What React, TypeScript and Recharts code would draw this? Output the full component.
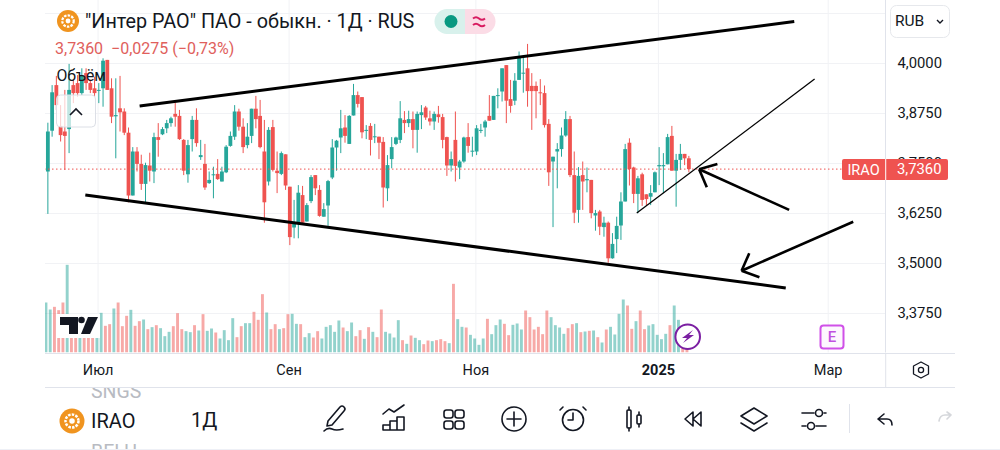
import { Bar, CartesianGrid, ComposedChart, ReferenceLine, XAxis, YAxis } from 'recharts';

const FONT = 'Roboto, sans-serif';
const UP = '#26a69a';
const DOWN = '#ef5350';
const TEXT = '#131722';
const GRID = '#f1f2f5';
const PANE = '#e0e3eb';

// daily candles
const opens = [
  3.730, 3.832, 3.946, 3.844, 3.830, 3.836, 3.946, 3.951, 3.926, 3.976, 3.951, 3.938, 3.932, 3.938, 4.009, 3.938,
  3.868, 3.888, 3.880, 3.827, 3.670, 3.780, 3.749, 3.699, 3.745, 3.730, 3.816, 3.823, 3.838, 3.851, 3.874, 3.869,
  3.809, 3.723, 3.811, 3.859, 3.766, 3.749, 3.701, 3.721, 3.724, 3.705, 3.728, 3.794, 3.817, 3.880, 3.842, 3.796,
  3.819, 3.887, 3.869, 3.780, 3.705, 3.841, 3.732, 3.724, 3.773, 3.692, 3.590, 3.602, 3.671, 3.605, 3.656, 3.721,
  3.684, 3.617, 3.645, 3.715, 3.790, 3.815, 3.840, 3.799, 3.870, 3.921, 3.916, 3.832, 3.844, 3.817, 3.817, 3.804,
  3.688, 3.761, 3.799, 3.809, 3.859, 3.851, 3.861, 3.834, 3.871, 3.890, 3.863, 3.855, 3.873, 3.866, 3.816, 3.745,
  3.809, 3.740, 3.755, 3.816, 3.780, 3.780, 3.832, 3.840, 3.869, 3.859, 3.920, 3.930, 3.996, 3.911, 3.907, 3.959,
  3.976, 3.988, 3.944, 3.944, 3.928, 3.926, 3.849, 3.755, 3.780, 3.786, 3.820, 3.861, 3.721, 3.634, 3.721, 3.708,
  3.709, 3.620, 3.630, 3.591, 3.602, 3.513, 3.561, 3.595, 3.655, 3.802, 3.740, 3.674, 3.723, 3.673, 3.667, 3.678,
  3.743, 3.743, 3.748, 3.819, 3.732, 3.759, 3.774, 3.763,
];
const highs = [
  3.852, 3.946, 3.969, 3.896, 3.934, 3.999, 3.959, 3.971, 3.988, 3.988, 3.959, 3.967, 3.951, 4.013, 4.009, 3.963,
  3.963, 3.969, 3.888, 3.840, 3.791, 3.791, 3.772, 3.752, 3.777, 3.827, 3.851, 3.841, 3.859, 3.867, 3.902, 3.884,
  3.811, 3.809, 3.869, 3.888, 3.809, 3.799, 3.730, 3.742, 3.761, 3.742, 3.796, 3.830, 3.896, 3.887, 3.863, 3.851,
  3.887, 3.919, 3.909, 3.859, 3.841, 3.859, 3.780, 3.780, 3.773, 3.692, 3.659, 3.696, 3.694, 3.651, 3.721, 3.721,
  3.696, 3.651, 3.709, 3.811, 3.809, 3.884, 3.871, 3.871, 3.949, 3.930, 3.916, 3.846, 3.851, 3.849, 3.817, 3.816,
  3.771, 3.816, 3.817, 3.906, 3.881, 3.882, 3.880, 3.880, 3.896, 3.894, 3.882, 3.880, 3.894, 3.874, 3.817, 3.780,
  3.880, 3.759, 3.817, 3.851, 3.817, 3.846, 3.849, 3.859, 3.921, 3.919, 3.938, 3.988, 3.996, 3.959, 3.976, 4.030,
  4.019, 4.049, 3.976, 3.955, 3.961, 3.945, 3.861, 3.767, 3.801, 3.840, 3.881, 3.869, 3.780, 3.741, 3.755, 3.740,
  3.709, 3.634, 3.634, 3.617, 3.605, 3.576, 3.617, 3.678, 3.799, 3.813, 3.742, 3.719, 3.727, 3.673, 3.696, 3.730,
  3.791, 3.776, 3.824, 3.844, 3.774, 3.799, 3.774, 3.769,
];
const lows = [
  3.624, 3.817, 3.884, 3.805, 3.734, 3.776, 3.901, 3.917, 3.921, 3.934, 3.926, 3.917, 3.901, 3.892, 3.934, 3.851,
  3.763, 3.830, 3.821, 3.653, 3.670, 3.730, 3.684, 3.652, 3.705, 3.701, 3.767, 3.821, 3.826, 3.842, 3.842, 3.809,
  3.721, 3.702, 3.780, 3.792, 3.759, 3.684, 3.699, 3.663, 3.709, 3.705, 3.726, 3.792, 3.809, 3.832, 3.776, 3.788,
  3.801, 3.838, 3.788, 3.602, 3.695, 3.730, 3.676, 3.721, 3.684, 3.546, 3.563, 3.563, 3.601, 3.605, 3.651, 3.671,
  3.617, 3.617, 3.594, 3.711, 3.732, 3.776, 3.802, 3.799, 3.870, 3.890, 3.813, 3.811, 3.770, 3.801, 3.761, 3.640,
  3.656, 3.738, 3.796, 3.801, 3.826, 3.841, 3.788, 3.777, 3.836, 3.859, 3.845, 3.834, 3.852, 3.788, 3.719, 3.730,
  3.705, 3.711, 3.752, 3.777, 3.767, 3.771, 3.826, 3.817, 3.857, 3.859, 3.888, 3.905, 3.851, 3.877, 3.896, 3.959,
  3.927, 3.892, 3.834, 3.863, 3.896, 3.840, 3.694, 3.591, 3.688, 3.767, 3.817, 3.716, 3.601, 3.602, 3.634, 3.678,
  3.613, 3.582, 3.571, 3.567, 3.502, 3.512, 3.526, 3.559, 3.655, 3.695, 3.651, 3.626, 3.644, 3.644, 3.646, 3.678,
  3.696, 3.676, 3.748, 3.732, 3.642, 3.734, 3.746, 3.728,
];
const closes = [
  3.830, 3.928, 3.896, 3.821, 3.819, 3.934, 3.926, 3.926, 3.971, 3.951, 3.934, 3.926, 3.934, 4.007, 3.934, 3.867,
  3.871, 3.878, 3.827, 3.670, 3.780, 3.749, 3.699, 3.746, 3.732, 3.816, 3.809, 3.836, 3.851, 3.863, 3.867, 3.811,
  3.732, 3.796, 3.859, 3.801, 3.771, 3.690, 3.709, 3.723, 3.711, 3.730, 3.792, 3.819, 3.880, 3.842, 3.791, 3.817,
  3.887, 3.861, 3.791, 3.653, 3.834, 3.734, 3.726, 3.776, 3.695, 3.566, 3.602, 3.677, 3.602, 3.646, 3.716, 3.688,
  3.619, 3.636, 3.706, 3.790, 3.807, 3.838, 3.819, 3.869, 3.921, 3.899, 3.828, 3.834, 3.809, 3.818, 3.802, 3.690,
  3.746, 3.791, 3.815, 3.863, 3.851, 3.861, 3.834, 3.874, 3.878, 3.865, 3.855, 3.874, 3.866, 3.809, 3.745, 3.761,
  3.744, 3.755, 3.815, 3.794, 3.782, 3.838, 3.834, 3.855, 3.857, 3.919, 3.921, 3.988, 3.907, 3.894, 3.957, 4.017,
  3.977, 3.931, 3.931, 3.931, 3.926, 3.846, 3.728, 3.767, 3.786, 3.820, 3.861, 3.721, 3.627, 3.719, 3.705, 3.711,
  3.626, 3.626, 3.592, 3.602, 3.513, 3.549, 3.594, 3.655, 3.786, 3.736, 3.674, 3.713, 3.659, 3.661, 3.676, 3.728,
  3.746, 3.746, 3.816, 3.732, 3.759, 3.774, 3.763, 3.736,
];
// volume in arbitrary units, the pane has no scale of its own
const volumes = [
  150, 129, 137, 127, 150, 263, 87, 95, 90, 105, 70, 52, 65, 119, 80, 85, 132, 150, 79, 110, 128, 80, 94, 99, 70, 76,
  82, 73, 49, 62, 79, 118, 70, 64, 61, 82, 66, 115, 65, 72, 60, 42, 67, 37, 103, 46, 79, 88, 88, 122, 98, 175, 120, 70,
  85, 70, 73, 115, 116, 86, 85, 46, 58, 45, 64, 42, 77, 82, 62, 96, 75, 64, 90, 49, 67, 41, 76, 62, 46, 129, 62, 57,
  45, 97, 37, 26, 51, 44, 37, 25, 36, 34, 37, 40, 34, 28, 206, 100, 77, 75, 53, 42, 23, 42, 101, 55, 82, 99, 86, 52,
  83, 87, 69, 126, 106, 69, 77, 55, 126, 106, 82, 75, 56, 73, 85, 88, 61, 63, 65, 66, 46, 30, 69, 77, 54, 116, 159, 141,
  71, 94, 126, 70, 81, 85, 53, 40, 56, 82, 141, 98, 55, 50,
];

const priceTicks = [3.375, 3.5, 3.625, 3.75, 3.875, 4];
const monthTicks = [12, 57, 101, 144, 184];
const monthNames = ['Июл', 'Сен', 'Ноя', '2025', 'Мар'];
const lastPrice = 3.736;

// hand drawn lines on the chart, as [bar index, price] pairs
const heavyLines = [
  [[21.8, 3.894], [176, 4.105]],
  [[9, 3.671], [174, 3.439]],
];
const arrowLines = [
  [[153.6, 3.7355], [174.8, 3.634]],
  [[153.6, 3.7355], [155.4, 3.6905]],
  [[153.6, 3.7355], [157.9, 3.749]],
  [[189.9, 3.6045], [163.6, 3.482]],
  [[163.6, 3.482], [167.8, 3.4655]],
  [[163.6, 3.482], [165.4, 3.5255]],
];
const thinLine = [[138.9, 3.626], [180.8, 3.961]];

const rows = opens.map((open, i) => ({
  i,
  open,
  high: highs[i],
  low: lows[i],
  close: closes[i],
  range: [lows[i], highs[i]],
  volume: volumes[i],
}));

const fmtPrice = (v: number) => v.toFixed(4).replace('.', ',');

const Candle = (props: any) => {
  const { x, y, width, height, payload } = props;
  const top = Math.min(y, y + height);
  const h = Math.abs(height);
  const perPrice = h / (payload.high - payload.low);
  const mid = x + width / 2;
  const bodyTop = top + (payload.high - Math.max(payload.open, payload.close)) * perPrice;
  const bodyH = Math.abs(payload.open - payload.close) * perPrice;
  const color = payload.close >= payload.open ? UP : DOWN;
  return (
    <g>
      <rect x={mid - 0.5} y={top} width={1} height={h} fill={color} />
      <rect x={mid - 1.9} y={bodyTop} width={3.8} height={Math.max(bodyH, 1)} fill={color} />
    </g>
  );
};

const VolumeBar = (props: any) => {
  const { x, y, width, height, payload } = props;
  const color = payload.close >= payload.open ? UP : DOWN;
  return <rect x={x + width / 2 - 1.45} y={y} width={2.9} height={height} fill={color} fillOpacity={0.5} />;
};

const MonthTick = (props: any) => {
  const { x, payload } = props;
  const name = monthNames[monthTicks.indexOf(payload.value)];
  return (
    <text
      x={x}
      y={375}
      textAnchor="middle"
      fontFamily={FONT}
      fontSize={14.5}
      fontWeight={name === '2025' ? 700 : 400}
      fill={TEXT}
    >
      {name}
    </text>
  );
};

const Logo = ({ cx, cy, r }: any) => (
  <g>
    <circle cx={cx} cy={cy} r={r} fill="#f0941f" />
    <circle cx={cx} cy={cy} r={r * 0.52} fill="none" stroke="#fff" strokeWidth={r * 0.2} strokeDasharray="2.5 1.2" />
    <circle cx={cx} cy={cy} r={r * 0.22} fill="#fff" />
  </g>
);

const Overlay = () => {
  const icon = { fill: 'none', stroke: TEXT, strokeWidth: 1.6, strokeLinecap: 'round', strokeLinejoin: 'round' } as any;
  return (
    <svg width={1000} height={450} style={{ position: 'absolute', left: 0, top: 0, pointerEvents: 'none' }}>
      <defs>
        <clipPath id="listClip">
          <rect x={0} y={388} width={1000} height={61} />
        </clipPath>
      </defs>

      <Logo cx={68} cy={21} r={11} />
      <text x={85} y={28} fontFamily={FONT} fontSize={19.8} fill={TEXT}>
        "Интер РАО" ПАО - обыкн. · 1Д · RUS
      </text>
      <path d="M447 9H465V34H447A12.5 12.5 0 0 1 447 9Z" fill="#d8f1ec" />
      <path d="M465 9H483A12.5 12.5 0 0 1 483 34H465Z" fill="#fbdce6" />
      <circle cx={451} cy={21.5} r={6.5} fill="#089981" />
      <path d="M473 18.5q3 -2.5 6 0t6 0M473 25q3 -2.5 6 0t6 0" fill="none" stroke="#d81b60" strokeWidth={2} />
      <text x={55} y={53.5} fontFamily={FONT} fontSize={16} fill="#e0605c" xmlSpace="preserve">
        3,7360  −0,0275 (−0,73%)
      </text>
      <text x={56.5} y={81} fontFamily={FONT} fontSize={15.8} fill={TEXT}>Объём</text>
      <rect x={56.5} y={95} width={39} height={32} rx={4} fill="#fff" fillOpacity={0.72} stroke="#dcdfe6" />
      <path d="M70 115l6 -6l6 6" fill="none" stroke={TEXT} strokeWidth={1.6} />

      <rect x={890.5} y={5.5} width={59} height={32} rx={6} fill="#fff" stroke="#e6e8ec" />
      <text x={895} y={26} fontFamily={FONT} fontSize={15.5} fill={TEXT}>RUB</text>
      <path d="M937 20l3 3l3 -3" fill="none" stroke={TEXT} strokeWidth={1.4} />

      {/* last price tag sits over the axis labels */}
      <rect x={842} y={159} width={106} height={21} rx={2} fill={DOWN} />
      <rect x={885.2} y={159} width={1} height={21} fill="#fff" />
      <text x={863.5} y={175} textAnchor="middle" fontFamily={FONT} fontSize={14.5} fill="#fff">IRAO</text>
      <text x={897} y={173.5} fontFamily={FONT} fontSize={14.8} fill="#fff">{fmtPrice(lastPrice)}</text>

      <g>
        <rect x={56} y={314} width={44} height={24} fill="#fff" />
        <path d="M60 317h18v17h-9v-9h-9z" fill={TEXT} />
        <circle cx={81.5} cy={320} r={3.3} fill={TEXT} />
        <path d="M88 317h10l-8 17h-9z" fill={TEXT} />
      </g>
      <circle cx={687.7} cy={336.7} r={12.3} fill="#fff" stroke="#7b1fa2" strokeWidth={2} />
      <path d="M693 330l-11 8h5l-4 5l11 -8h-5z" fill="#7b1fa2" />
      <rect x={820.5} y={325.5} width={23} height={23} rx={3} fill="#fdf7fe" stroke="#d050e8" strokeWidth={2} />
      <text x={832} y={342} textAnchor="middle" fontFamily={FONT} fontSize={15} fontWeight={500} fill="#c050e0">E</text>

      <path d="M45 353.5H955M45 387.5H955M885.7 353V388" stroke={PANE} fill="none" />
      <path d="M921 362l7.5 4v8l-7.5 4l-7.5 -4v-8z" {...icon} strokeWidth={1.3} />
      <circle cx={921} cy={370} r={2.6} {...icon} strokeWidth={1.3} />

      <g clipPath="url(#listClip)" fontFamily={FONT} fontSize={19.5} fill="#b8bbc2">
        <text x={91} y={398}>SNGS</text>
        <text x={91} y={459}>BELU</text>
      </g>
      <Logo cx={72} cy={421} r={12.5} />
      <text x={91} y={428} fontFamily={FONT} fontSize={20} fill={TEXT}>IRAO</text>
      <text x={191} y={427} fontFamily={FONT} fontSize={20} fill={TEXT}>1Д</text>

      <g {...icon}>
        {/* pencil */}
        <path d="M328 421l12 -14q2 -2 4 0t0 4l-12 14l-5 1z" />
        <path d="M324 431q4 -4 8 -2t11 0" />
        {/* indicators */}
        <path d="M383 414l6 -5l5 3l10 -7" />
        <path d="M383 430v-5h7v5zM390 430v-9h7v9zM397 430v-13h7v13z" />
        {/* layouts */}
        <rect x={444} y={410} width={9} height={8} rx={2.5} />
        <rect x={455} y={410} width={9} height={8} rx={2.5} />
        <rect x={444} y={421} width={9} height={8} rx={2.5} />
        <rect x={455} y={421} width={9} height={8} rx={2.5} />
        {/* add */}
        <circle cx={514} cy={419} r={12} />
        <path d="M514 412v14M507 419h14" />
        {/* alarm */}
        <circle cx={573} cy={420} r={10.5} />
        <path d="M573 413v7h-5M563 407l-3 3M583 407l3 3" />
        {/* candles */}
        <rect x={627} y={410} width={4} height={18} rx={1} />
        <path d="M629 407v3M629 428v3M639 412v3M639 424v3" />
        <rect x={637} y={415} width={4} height={9} rx={1} />
        {/* replay */}
        <path d="M693 412l-8 7l8 7zM701 412l-8 7l8 7z" />
        {/* layers */}
        <path d="M754 408l13 8l-13 8l-13 -8zM741 423l13 8l13 -8" />
        {/* sliders */}
        <path d="M802 413h12M824 413h2M802 426h4M816 426h10" />
        <circle cx={819} cy={413} r={3.5} />
        <circle cx={811} cy={426} r={3.5} />
        {/* undo */}
        <path d="M878 419l6 -5M878 419l6 5M878 419h9q5 0 5 6" />
      </g>
      <path d="M849.5 404V433" stroke={PANE} fill="none" />
      <path d="M951 415l-4 -3M951 415l-4 4M951 415h-6q-5 0 -6 6" fill="none" stroke="#d5d7db" strokeWidth={1.6} strokeLinecap="round" />
      <path d="M0 449.5H1000" stroke="#eef0f6" fill="none" />
    </svg>
  );
};

export default function App() {
  return (
    <div style={{ position: 'absolute', left: 0, top: 0, width: 1000, height: 450, background: '#fff' }}>
      <ComposedChart
        width={1000}
        height={450}
        data={rows}
        margin={{ top: 0, right: 0, bottom: 0, left: 45 }}
      >
        <CartesianGrid stroke={GRID} yAxisId="price" syncWithTicks />
        <XAxis
          dataKey="i"
          type="number"
          domain={[-0.5, 197.5]}
          allowDataOverflow
          ticks={monthTicks}
          interval={0}
          height={97.5}
          tick={<MonthTick />}
          tickLine={false}
          axisLine={false}
        />
        <YAxis
          yAxisId="price"
          orientation="right"
          width={114.5}
          domain={[3.2775, 4.15875]}
          allowDataOverflow
          ticks={priceTicks}
          interval={0}
          tickFormatter={fmtPrice}
          tick={{ fill: TEXT, fontSize: 14.8, fontFamily: FONT, dy: -1 }}
          tickLine={false}
          tickMargin={6}
          axisLine={{ stroke: PANE }}
        />
        <YAxis yAxisId="vol" hide domain={[0, 1057.5]} allowDataOverflow />
        <ReferenceLine yAxisId="price" y={4.125} stroke={GRID} />
        <Bar yAxisId="vol" dataKey="volume" shape={<VolumeBar />} barSize={4} isAnimationActive={false} />
        <Bar yAxisId="price" dataKey="range" shape={<Candle />} barSize={4} isAnimationActive={false} />
        <ReferenceLine yAxisId="price" y={lastPrice} stroke={DOWN} strokeDasharray="1.5 2.5" />
        {heavyLines.map((seg, k) => (
          <ReferenceLine
            key={k}
            yAxisId="price"
            segment={[{ x: seg[0][0], y: seg[0][1] }, { x: seg[1][0], y: seg[1][1] }]}
            stroke="#000"
            strokeWidth={3}
            ifOverflow="visible"
          />
        ))}
        {arrowLines.map((seg, k) => (
          <ReferenceLine
            key={k}
            yAxisId="price"
            segment={[{ x: seg[0][0], y: seg[0][1] }, { x: seg[1][0], y: seg[1][1] }]}
            stroke="#000"
            strokeWidth={2.6}
            ifOverflow="visible"
          />
        ))}
        <ReferenceLine
          yAxisId="price"
          segment={[{ x: thinLine[0][0], y: thinLine[0][1] }, { x: thinLine[1][0], y: thinLine[1][1] }]}
          stroke="#000"
          strokeWidth={1.3}
          ifOverflow="visible"
        />
      </ComposedChart>
      <Overlay />
    </div>
  );
}
